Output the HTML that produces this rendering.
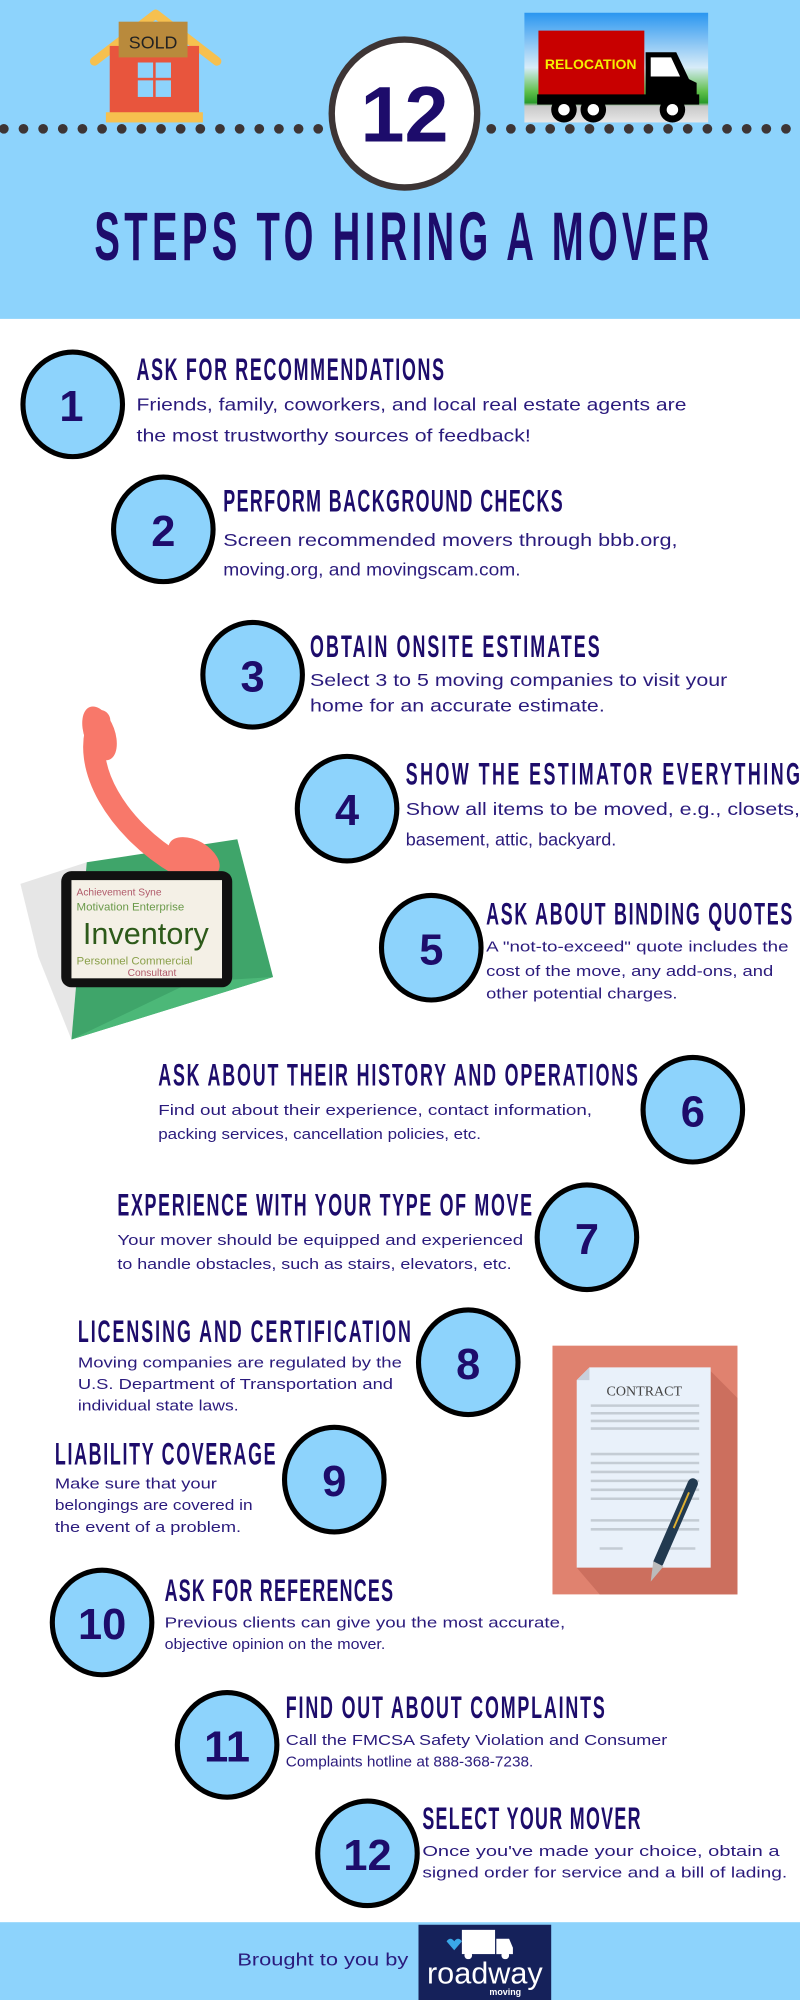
<!DOCTYPE html>
<html><head><meta charset="utf-8"><style>
html,body{margin:0;padding:0;background:#fff}
svg{display:block}
.h{font-family:"Liberation Sans Narrow","Liberation Sans",sans-serif;font-weight:bold;fill:#1d0c6b}
.b{font-family:"Liberation Sans",sans-serif;fill:#2a1a7c}
.n{font-family:"Liberation Sans",sans-serif;font-weight:bold;fill:#1d0c6b;text-anchor:middle}
</style></head><body>
<svg width="800" height="2000" viewBox="0 0 627 1568" preserveAspectRatio="none" xmlns="http://www.w3.org/2000/svg">
<rect x="0" y="0" width="627" height="250" fill="#8dd3fc"/>
<rect x="0" y="1507" width="627" height="61" fill="#8dd3fc"/>
<!-- dots -->
<g fill="#3d3535">
<circle cx="3" cy="101" r="3.8"/><circle cx="18.4" cy="101" r="3.8"/><circle cx="33.8" cy="101" r="3.8"/><circle cx="49.2" cy="101" r="3.8"/><circle cx="64.6" cy="101" r="3.8"/><circle cx="80" cy="101" r="3.8"/><circle cx="95.4" cy="101" r="3.8"/><circle cx="110.8" cy="101" r="3.8"/><circle cx="126.2" cy="101" r="3.8"/><circle cx="141.6" cy="101" r="3.8"/><circle cx="157" cy="101" r="3.8"/><circle cx="172.4" cy="101" r="3.8"/><circle cx="187.8" cy="101" r="3.8"/><circle cx="203.2" cy="101" r="3.8"/><circle cx="218.6" cy="101" r="3.8"/><circle cx="234" cy="101" r="3.8"/><circle cx="249.4" cy="101" r="3.8"/>
<circle cx="385" cy="101" r="3.8"/><circle cx="400.4" cy="101" r="3.8"/><circle cx="415.8" cy="101" r="3.8"/><circle cx="431.2" cy="101" r="3.8"/><circle cx="446.6" cy="101" r="3.8"/><circle cx="462" cy="101" r="3.8"/><circle cx="477.4" cy="101" r="3.8"/><circle cx="492.8" cy="101" r="3.8"/><circle cx="508.2" cy="101" r="3.8"/><circle cx="523.6" cy="101" r="3.8"/><circle cx="539" cy="101" r="3.8"/><circle cx="554.4" cy="101" r="3.8"/><circle cx="569.8" cy="101" r="3.8"/><circle cx="585.2" cy="101" r="3.8"/><circle cx="600.6" cy="101" r="3.8"/><circle cx="616" cy="101" r="3.8"/>
</g>
<!-- house -->
<polyline points="74,48 122,11 170,48" fill="none" stroke="#f6c04f" stroke-width="7" stroke-linejoin="round" stroke-linecap="round"/>
<rect x="86" y="36" width="70" height="53" fill="#e8553d"/>
<rect x="108" y="49" width="12" height="12" fill="#8dd3fc"/><rect x="122" y="49" width="12" height="12" fill="#8dd3fc"/>
<rect x="108" y="63" width="12" height="13" fill="#8dd3fc"/><rect x="122" y="63" width="12" height="13" fill="#8dd3fc"/>
<rect x="83" y="88" width="76" height="8" fill="#f6c04f"/>
<rect x="93" y="17" width="54" height="28" fill="#b98a3c"/>
<text x="120" y="38" font-family="Liberation Sans,sans-serif" font-size="14" fill="#222" text-anchor="middle">SOLD</text>
<!-- truck -->
<defs><linearGradient id="sky" x1="0" y1="0" x2="0" y2="1">
<stop offset="0" stop-color="#2a96f0"/><stop offset="0.5" stop-color="#d8ecf8"/><stop offset="0.72" stop-color="#5fbf4a"/><stop offset="0.82" stop-color="#2a9a2a"/><stop offset="0.85" stop-color="#c8c8c8"/><stop offset="1" stop-color="#e8e8e8"/></linearGradient></defs>
<rect x="411" y="10" width="144" height="86" fill="url(#sky)"/>
<rect x="422" y="24" width="83" height="51" fill="#c80000"/>
<text x="463" y="54" font-family="Liberation Sans Narrow,Liberation Sans,sans-serif" font-weight="bold" font-size="11" fill="#f5f000" text-anchor="middle">RELOCATION</text>
<path d="M506,41 L530,41 L540,62 L546,65 L546,78 L506,78 Z" fill="#000"/>
<path d="M510,45 L526,45 L533,60 L510,60 Z" fill="#fff"/>
<rect x="421" y="74" width="127" height="8" fill="#000"/>
<g fill="#000"><circle cx="442" cy="86" r="10"/><circle cx="465" cy="86" r="10"/><circle cx="527" cy="86" r="10"/></g>
<g fill="#fff"><circle cx="442" cy="86" r="4.5"/><circle cx="465" cy="86" r="4.5"/><circle cx="527" cy="86" r="4.5"/></g>
<!-- big 12 -->
<ellipse cx="317" cy="89" rx="57" ry="58" fill="#fff" stroke="#3d3535" stroke-width="5"/>
<text class="n" x="317" y="111" font-size="62">12</text>
<text class="h" transform="translate(74,204) scale(1,1.8)" x="0" y="0" font-size="30" textLength="482" lengthAdjust="spacing">STEPS TO HIRING A MOVER</text>
<!-- circles -->
<g fill="#8dd3fc" stroke="#000" stroke-width="4">
<ellipse cx="57" cy="317" rx="39" ry="41"/><ellipse cx="128" cy="415" rx="39" ry="41"/><ellipse cx="198" cy="529" rx="39" ry="41"/><ellipse cx="272" cy="634" rx="39" ry="41"/><ellipse cx="338" cy="743" rx="39" ry="41"/><ellipse cx="543" cy="870" rx="39" ry="41"/><ellipse cx="460" cy="970" rx="39" ry="41"/><ellipse cx="367" cy="1068" rx="39" ry="41"/><ellipse cx="262" cy="1160" rx="39" ry="41"/><ellipse cx="80" cy="1272" rx="39" ry="41"/><ellipse cx="178" cy="1368" rx="39" ry="41"/><ellipse cx="288" cy="1453" rx="39" ry="41"/>
</g>
<g font-size="34">
<text class="n" x="56" y="330">1</text><text class="n" x="128" y="428">2</text><text class="n" x="198" y="542">3</text><text class="n" x="272" y="647">4</text><text class="n" x="338" y="756">5</text><text class="n" x="543" y="883">6</text><text class="n" x="460" y="983">7</text><text class="n" x="367" y="1081">8</text><text class="n" x="262" y="1173">9</text><text class="n" x="80" y="1285">10</text><text class="n" x="178" y="1381">11</text><text class="n" x="288" y="1466">12</text>
</g>
<!-- headings -->
<g font-size="14">
<text class="h" transform="translate(107,298) scale(1,1.75)" textLength="241" lengthAdjust="spacing">ASK FOR RECOMMENDATIONS</text>
<text class="h" transform="translate(175,401) scale(1,1.75)" textLength="266" lengthAdjust="spacing">PERFORM BACKGROUND CHECKS</text>
<text class="h" transform="translate(243,515) scale(1,1.75)" textLength="227" lengthAdjust="spacing">OBTAIN ONSITE ESTIMATES</text>
<text class="h" transform="translate(318,615) scale(1,1.75)" textLength="309" lengthAdjust="spacing">SHOW THE ESTIMATOR EVERYTHING</text>
<text class="h" transform="translate(381,725) scale(1,1.75)" textLength="240" lengthAdjust="spacing">ASK ABOUT BINDING QUOTES</text>
<text class="h" transform="translate(124,851) scale(1,1.75)" textLength="376" lengthAdjust="spacing">ASK ABOUT THEIR HISTORY AND OPERATIONS</text>
<text class="h" transform="translate(92,953) scale(1,1.75)" textLength="325" lengthAdjust="spacing">EXPERIENCE WITH YOUR TYPE OF MOVE</text>
<text class="h" transform="translate(61,1052) scale(1,1.75)" textLength="261" lengthAdjust="spacing">LICENSING AND CERTIFICATION</text>
<text class="h" transform="translate(43,1148) scale(1,1.75)" textLength="173" lengthAdjust="spacing">LIABILITY COVERAGE</text>
<text class="h" transform="translate(129,1255) scale(1,1.75)" textLength="179" lengthAdjust="spacing">ASK FOR REFERENCES</text>
<text class="h" transform="translate(224,1347) scale(1,1.75)" textLength="250" lengthAdjust="spacing">FIND OUT ABOUT COMPLAINTS</text>
<text class="h" transform="translate(331,1434) scale(1,1.75)" textLength="171" lengthAdjust="spacing">SELECT YOUR MOVER</text>
</g>
<!-- body -->
<g font-size="13.5">
<text class="b" x="107" y="322" textLength="431" lengthAdjust="spacingAndGlyphs">Friends, family, coworkers, and local real estate agents are</text>
<text class="b" x="107" y="346" textLength="309" lengthAdjust="spacingAndGlyphs">the most trustworthy sources of feedback!</text>
<text class="b" x="175" y="428" textLength="356" lengthAdjust="spacingAndGlyphs">Screen recommended movers through bbb.org,</text>
<text class="b" x="175" y="451" textLength="233" lengthAdjust="spacingAndGlyphs">moving.org, and movingscam.com.</text>
<text class="b" x="243" y="538" textLength="327" lengthAdjust="spacingAndGlyphs">Select 3 to 5 moving companies to visit your</text>
<text class="b" x="243" y="558" textLength="231" lengthAdjust="spacingAndGlyphs">home for an accurate estimate.</text>
<text class="b" x="318" y="639" textLength="309" lengthAdjust="spacingAndGlyphs">Show all items to be moved, e.g., closets,</text>
<text class="b" x="318" y="663" textLength="165" lengthAdjust="spacingAndGlyphs">basement, attic, backyard.</text>
</g>
<g font-size="11.5">
<text class="b" x="381" y="746" textLength="237" lengthAdjust="spacingAndGlyphs">A "not-to-exceed" quote includes the</text>
<text class="b" x="381" y="765" textLength="225" lengthAdjust="spacingAndGlyphs">cost of the move, any add-ons, and</text>
<text class="b" x="381" y="783" textLength="150" lengthAdjust="spacingAndGlyphs">other potential charges.</text>
<text class="b" x="124" y="874" textLength="340" lengthAdjust="spacingAndGlyphs">Find out about their experience, contact information,</text>
<text class="b" x="124" y="893" textLength="253" lengthAdjust="spacingAndGlyphs">packing services, cancellation policies, etc.</text>
<text class="b" x="92" y="976" textLength="318" lengthAdjust="spacingAndGlyphs">Your mover should be equipped and experienced</text>
<text class="b" x="92" y="995" textLength="309" lengthAdjust="spacingAndGlyphs">to handle obstacles, such as stairs, elevators, etc.</text>
<text class="b" x="61" y="1072" textLength="254" lengthAdjust="spacingAndGlyphs">Moving companies are regulated by the</text>
<text class="b" x="61" y="1089" textLength="247" lengthAdjust="spacingAndGlyphs">U.S. Department of Transportation and</text>
<text class="b" x="61" y="1106" textLength="126" lengthAdjust="spacingAndGlyphs">individual state laws.</text>
<text class="b" x="43" y="1167" textLength="127" lengthAdjust="spacingAndGlyphs">Make sure that your</text>
<text class="b" x="43" y="1184" textLength="155" lengthAdjust="spacingAndGlyphs">belongings are covered in</text>
<text class="b" x="43" y="1201" textLength="146" lengthAdjust="spacingAndGlyphs">the event of a problem.</text>
<text class="b" x="129" y="1276" textLength="314" lengthAdjust="spacingAndGlyphs">Previous clients can give you the most accurate,</text>
<text class="b" x="129" y="1293" textLength="173" lengthAdjust="spacingAndGlyphs">objective opinion on the mover.</text>
<text class="b" x="224" y="1368" textLength="299" lengthAdjust="spacingAndGlyphs">Call the FMCSA Safety Violation and Consumer</text>
<text class="b" x="224" y="1385" textLength="194" lengthAdjust="spacingAndGlyphs">Complaints hotline at 888-368-7238.</text>
<text class="b" x="331" y="1455" textLength="280" lengthAdjust="spacingAndGlyphs">Once you've made your choice, obtain a</text>
<text class="b" x="331" y="1472" textLength="286" lengthAdjust="spacingAndGlyphs">signed order for service and a bill of lading.</text>
</g>
<!-- phone + tablet -->
<polygon points="16,693 68,676 56,815 30,750" fill="#e6e6e6"/>
<polygon points="68,676 186,658 214,766 56,815" fill="#3fa56a"/>
<polygon points="56,815 150,770 214,766" fill="#4cb878"/>
<path d="M78,565 C62,600 92,650 140,678" fill="none" stroke="#f8786a" stroke-width="17" stroke-linecap="round"/>
<ellipse cx="78" cy="575" rx="12" ry="22" transform="rotate(-20 78 575)" fill="#f8786a"/>
<ellipse cx="152" cy="672" rx="13" ry="22" transform="rotate(-60 152 672)" fill="#f8786a"/>
<rect x="48" y="683" width="134" height="91" rx="8" fill="#111"/>
<rect x="56" y="690" width="118" height="77" fill="#f4f0e6"/>
<text x="60" y="702" font-family="Liberation Sans Narrow,sans-serif" font-size="8" fill="#b05a6a">Achievement Syne</text>
<text x="60" y="714" font-family="Liberation Sans Narrow,sans-serif" font-size="9" fill="#6a9a4a">Motivation Enterprise</text>
<text x="65" y="740" font-family="Liberation Sans Narrow,sans-serif" font-size="24" fill="#2d5a1a">Inventory</text>
<text x="60" y="756" font-family="Liberation Sans Narrow,sans-serif" font-size="9" fill="#8aa04a">Personnel Commercial</text>
<text x="100" y="765" font-family="Liberation Sans Narrow,sans-serif" font-size="8" fill="#b05a6a">Consultant</text>
<!-- contract -->
<rect x="433" y="1055" width="145" height="195" fill="#e0826f"/>
<polygon points="557,1075 578,1096 578,1250 470,1250 452,1229 557,1229" fill="#cc6f5e"/>
<polygon points="462,1072 557,1072 557,1229 452,1229 452,1082" fill="#e9f1fa"/>
<polygon points="452,1082 462,1072 462,1082" fill="#c8d0dc"/>
<text x="505" y="1094" font-family="Liberation Serif,serif" font-size="11" fill="#444" text-anchor="middle">CONTRACT</text>
<g stroke="#c4ccd4" stroke-width="2">
<line x1="463" y1="1102" x2="548" y2="1102"/><line x1="463" y1="1108" x2="548" y2="1108"/><line x1="463" y1="1114" x2="548" y2="1114"/><line x1="463" y1="1120" x2="548" y2="1120"/>
<line x1="463" y1="1140" x2="548" y2="1140"/><line x1="463" y1="1147" x2="548" y2="1147"/><line x1="463" y1="1154" x2="548" y2="1154"/><line x1="463" y1="1161" x2="548" y2="1161"/><line x1="463" y1="1168" x2="548" y2="1168"/><line x1="463" y1="1175" x2="548" y2="1175"/>
<line x1="463" y1="1192" x2="548" y2="1192"/><line x1="463" y1="1199" x2="548" y2="1199"/><line x1="470" y1="1214" x2="488" y2="1214"/><line x1="523" y1="1214" x2="545" y2="1214"/>
</g>
<line x1="543" y1="1163" x2="516" y2="1225" stroke="#223a50" stroke-width="8" stroke-linecap="round"/>
<line x1="540" y1="1170" x2="528" y2="1198" stroke="#e0b030" stroke-width="1.5"/>
<polygon points="512,1224 520,1228 510,1240" fill="#bbb"/>
<!-- footer -->
<text class="b" x="186" y="1541" font-size="13.5" textLength="134" lengthAdjust="spacingAndGlyphs">Brought to you by</text>
<rect x="328" y="1509" width="104" height="59" fill="#15215a"/>
<rect x="362" y="1513" width="26" height="19" fill="#fff"/>
<path d="M389,1520 L399,1520 L402,1527 L402,1532 L389,1532 Z" fill="#fff"/>
<circle cx="367" cy="1533" r="3" fill="#fff"/><circle cx="396" cy="1533" r="3" fill="#fff"/>
<path d="M350,1522 q3,-4 6,0 q3,-4 6,0 l-6,7 z" fill="#3aa8e8"/>
<text x="380" y="1555" font-family="Liberation Sans,sans-serif" font-size="24" fill="#fff" text-anchor="middle">roadway</text>
<text x="396" y="1564" font-family="Liberation Sans,sans-serif" font-weight="bold" font-size="7" fill="#fff" text-anchor="middle">moving</text>
</svg>
</body></html>
